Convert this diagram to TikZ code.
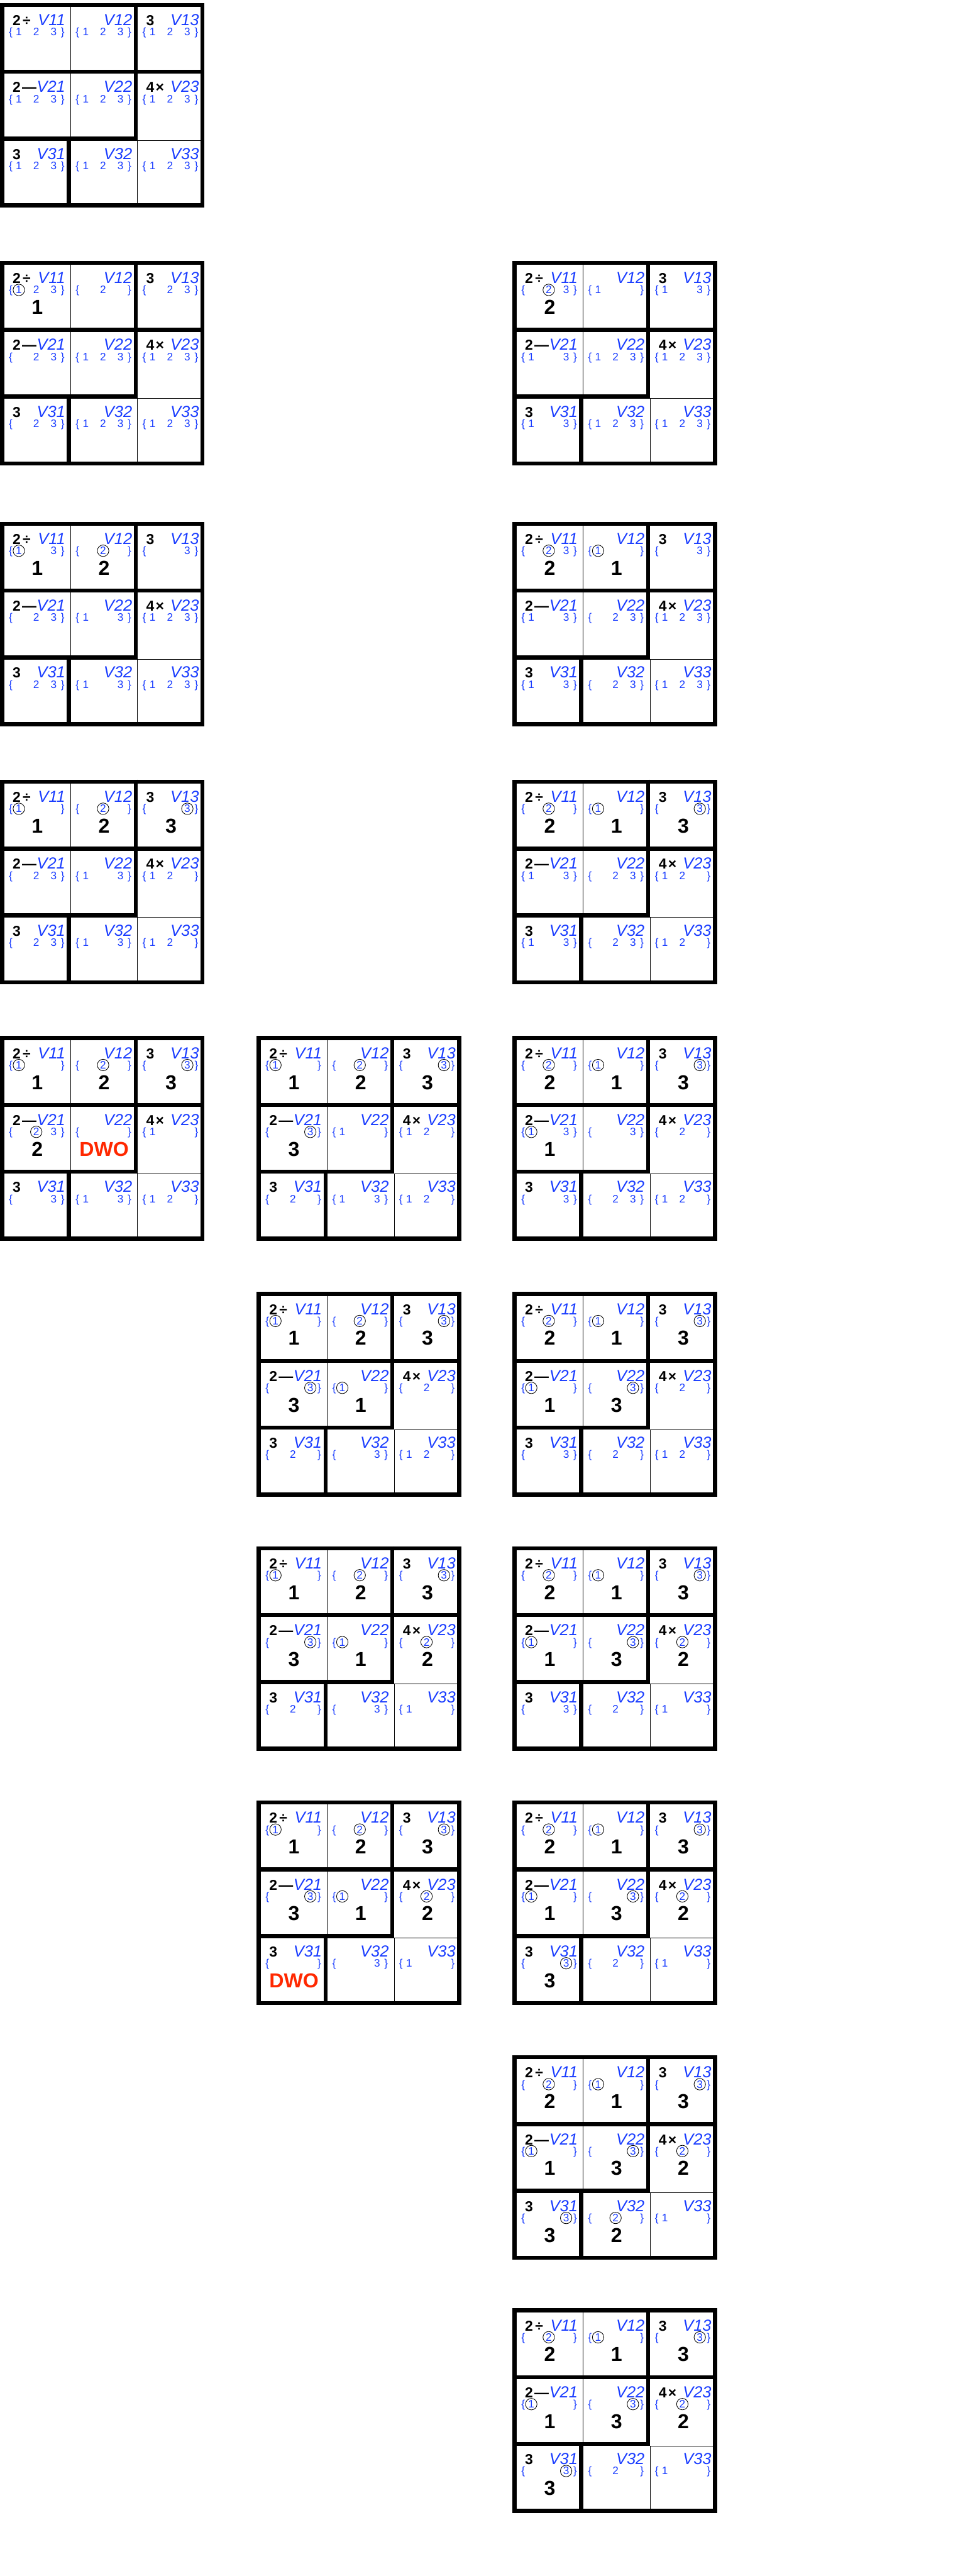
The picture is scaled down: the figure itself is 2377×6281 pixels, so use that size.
\documentclass[tikz,border=0pt]{standalone}
\usepackage{fontspec}
\setmainfont{Liberation Sans}
\definecolor{vblue}{RGB}{25,60,255}
\definecolor{dwored}{RGB}{255,40,0}

\tikzset{
  bar/.style={line width=0.1cm},
  hair/.style={line width=0.012cm},
  cage/.style={font=\fontsize{10}{12}\selectfont\bfseries, anchor=base west, inner sep=0pt},
  vname/.style={font=\fontsize{11.1}{13}\selectfont\itshape, text=vblue, anchor=base east, inner sep=0pt},
  dom/.style={font=\fontsize{7.5}{9}\selectfont, text=vblue, anchor=base, inner sep=0pt},
  picked/.style={circle, draw=black, line width=0.013cm, minimum size=0.28cm},
  val/.style={font=\fontsize{14}{16}\selectfont\bfseries, anchor=base, inner sep=0pt},
  dwo/.style={val, text=dwored}
}

% #1 name, #2 #3 top left corner, #4 cells row/col/domain/circled/value (9 = DWO)
\newcommand{\kenken}[4]{%
  \begin{scope}[shift={(#2,#3)}]
    \draw[hair] (172.5,10) -- (172.5,326) (335.5,336) -- (335.5,489) (336,335.5) -- (489,335.5);
    \draw[bar] (5,5) rectangle (494,494);
    \draw[bar] (0,168) -- (499,168) (331,0) -- (331,336) (0,331) -- (336,331) (168,326) -- (168,499);
    \node[cage] (#1-k11) at (30,55) {2\kern1.5pt÷};
    \node[cage] (#1-k13) at (356,55) {3};
    \node[cage] (#1-k21) at (30,218) {2\kern1pt—};
    \node[cage] (#1-k23) at (356,218) {4\kern1pt×};
    \node[cage] (#1-k31) at (30,381) {3};
    \foreach \row/\col/\dm/\ci/\va in {#4} {
      \pgfmathsetmacro{\cellx}{10+163*(\col-1)}
      \pgfmathsetmacro{\celly}{10+163*(\row-1)}
      \node[vname] (#1-v\row\col) at (\cellx+150,\celly+45) {V\row\col};
      \node[dom] (#1-l\row\col) at (\cellx+16,\celly+70) {\{};
      \node[dom] (#1-r\row\col) at (\cellx+143,\celly+70) {\}};
      \foreach \k in \dm {
        \ifnum\k>0
          \ifnum\k=\ci
            \node[dom,picked] (#1-d\row\col\k) at (\cellx+36+42.5*\k-42.5,\celly+70) {\k};
          \else
            \node[dom] (#1-d\row\col\k) at (\cellx+36+42.5*\k-42.5,\celly+70) {\k};
          \fi
        \fi
      }
      \ifnum\va=9
        \node[dwo] (#1-x\row\col) at (\cellx+81,\celly+120) {DWO};
      \else\ifnum\va>0
        \node[val] (#1-x\row\col) at (\cellx+81,\celly+120) {\va};
      \fi\fi
    }
  \end{scope}}

\begin{document}
\begin{tikzpicture}[x=0.01cm,y=-0.01cm]
\useasboundingbox (0,0) rectangle (2377,6281);

\kenken{A1}{0}{7}{1/1/{1,2,3}/0/0, 1/2/{1,2,3}/0/0, 1/3/{1,2,3}/0/0, 2/1/{1,2,3}/0/0, 2/2/{1,2,3}/0/0, 2/3/{1,2,3}/0/0, 3/1/{1,2,3}/0/0, 3/2/{1,2,3}/0/0, 3/3/{1,2,3}/0/0}

\kenken{A2}{0}{636}{1/1/{1,2,3}/1/1, 1/2/{2}/0/0, 1/3/{2,3}/0/0, 2/1/{2,3}/0/0, 2/2/{1,2,3}/0/0, 2/3/{1,2,3}/0/0, 3/1/{2,3}/0/0, 3/2/{1,2,3}/0/0, 3/3/{1,2,3}/0/0}
\kenken{C2}{1250}{636}{1/1/{2,3}/2/2, 1/2/{1}/0/0, 1/3/{1,3}/0/0, 2/1/{1,3}/0/0, 2/2/{1,2,3}/0/0, 2/3/{1,2,3}/0/0, 3/1/{1,3}/0/0, 3/2/{1,2,3}/0/0, 3/3/{1,2,3}/0/0}

\kenken{A3}{0}{1272}{1/1/{1,3}/1/1, 1/2/{2}/2/2, 1/3/{3}/0/0, 2/1/{2,3}/0/0, 2/2/{1,3}/0/0, 2/3/{1,2,3}/0/0, 3/1/{2,3}/0/0, 3/2/{1,3}/0/0, 3/3/{1,2,3}/0/0}
\kenken{C3}{1250}{1272}{1/1/{2,3}/2/2, 1/2/{1}/1/1, 1/3/{3}/0/0, 2/1/{1,3}/0/0, 2/2/{2,3}/0/0, 2/3/{1,2,3}/0/0, 3/1/{1,3}/0/0, 3/2/{2,3}/0/0, 3/3/{1,2,3}/0/0}

\kenken{A4}{0}{1901}{1/1/{1}/1/1, 1/2/{2}/2/2, 1/3/{3}/3/3, 2/1/{2,3}/0/0, 2/2/{1,3}/0/0, 2/3/{1,2}/0/0, 3/1/{2,3}/0/0, 3/2/{1,3}/0/0, 3/3/{1,2}/0/0}
\kenken{C4}{1250}{1901}{1/1/{2}/2/2, 1/2/{1}/1/1, 1/3/{3}/3/3, 2/1/{1,3}/0/0, 2/2/{2,3}/0/0, 2/3/{1,2}/0/0, 3/1/{1,3}/0/0, 3/2/{2,3}/0/0, 3/3/{1,2}/0/0}

\kenken{A5}{0}{2526}{1/1/{1}/1/1, 1/2/{2}/2/2, 1/3/{3}/3/3, 2/1/{2,3}/2/2, 2/2/{0}/0/9, 2/3/{1}/0/0, 3/1/{3}/0/0, 3/2/{1,3}/0/0, 3/3/{1,2}/0/0}
\kenken{B5}{626}{2526}{1/1/{1}/1/1, 1/2/{2}/2/2, 1/3/{3}/3/3, 2/1/{3}/3/3, 2/2/{1}/0/0, 2/3/{1,2}/0/0, 3/1/{2}/0/0, 3/2/{1,3}/0/0, 3/3/{1,2}/0/0}
\kenken{C5}{1250}{2526}{1/1/{2}/2/2, 1/2/{1}/1/1, 1/3/{3}/3/3, 2/1/{1,3}/1/1, 2/2/{3}/0/0, 2/3/{2}/0/0, 3/1/{3}/0/0, 3/2/{2,3}/0/0, 3/3/{1,2}/0/0}

\kenken{B6}{626}{3150}{1/1/{1}/1/1, 1/2/{2}/2/2, 1/3/{3}/3/3, 2/1/{3}/3/3, 2/2/{1}/1/1, 2/3/{2}/0/0, 3/1/{2}/0/0, 3/2/{3}/0/0, 3/3/{1,2}/0/0}
\kenken{C6}{1250}{3150}{1/1/{2}/2/2, 1/2/{1}/1/1, 1/3/{3}/3/3, 2/1/{1}/1/1, 2/2/{3}/3/3, 2/3/{2}/0/0, 3/1/{3}/0/0, 3/2/{2}/0/0, 3/3/{1,2}/0/0}

\kenken{B7}{626}{3770}{1/1/{1}/1/1, 1/2/{2}/2/2, 1/3/{3}/3/3, 2/1/{3}/3/3, 2/2/{1}/1/1, 2/3/{2}/2/2, 3/1/{2}/0/0, 3/2/{3}/0/0, 3/3/{1}/0/0}
\kenken{C7}{1250}{3770}{1/1/{2}/2/2, 1/2/{1}/1/1, 1/3/{3}/3/3, 2/1/{1}/1/1, 2/2/{3}/3/3, 2/3/{2}/2/2, 3/1/{3}/0/0, 3/2/{2}/0/0, 3/3/{1}/0/0}

\kenken{B8}{626}{4390}{1/1/{1}/1/1, 1/2/{2}/2/2, 1/3/{3}/3/3, 2/1/{3}/3/3, 2/2/{1}/1/1, 2/3/{2}/2/2, 3/1/{0}/0/9, 3/2/{3}/0/0, 3/3/{1}/0/0}
\kenken{C8}{1250}{4390}{1/1/{2}/2/2, 1/2/{1}/1/1, 1/3/{3}/3/3, 2/1/{1}/1/1, 2/2/{3}/3/3, 2/3/{2}/2/2, 3/1/{3}/3/3, 3/2/{2}/0/0, 3/3/{1}/0/0}

\kenken{C9}{1250}{5011}{1/1/{2}/2/2, 1/2/{1}/1/1, 1/3/{3}/3/3, 2/1/{1}/1/1, 2/2/{3}/3/3, 2/3/{2}/2/2, 3/1/{3}/3/3, 3/2/{2}/2/2, 3/3/{1}/0/0}

\kenken{C10}{1250}{5628}{1/1/{2}/2/2, 1/2/{1}/1/1, 1/3/{3}/3/3, 2/1/{1}/1/1, 2/2/{3}/3/3, 2/3/{2}/2/2, 3/1/{3}/3/3, 3/2/{2}/0/0, 3/3/{1}/0/0}
\end{tikzpicture}
\end{document}
